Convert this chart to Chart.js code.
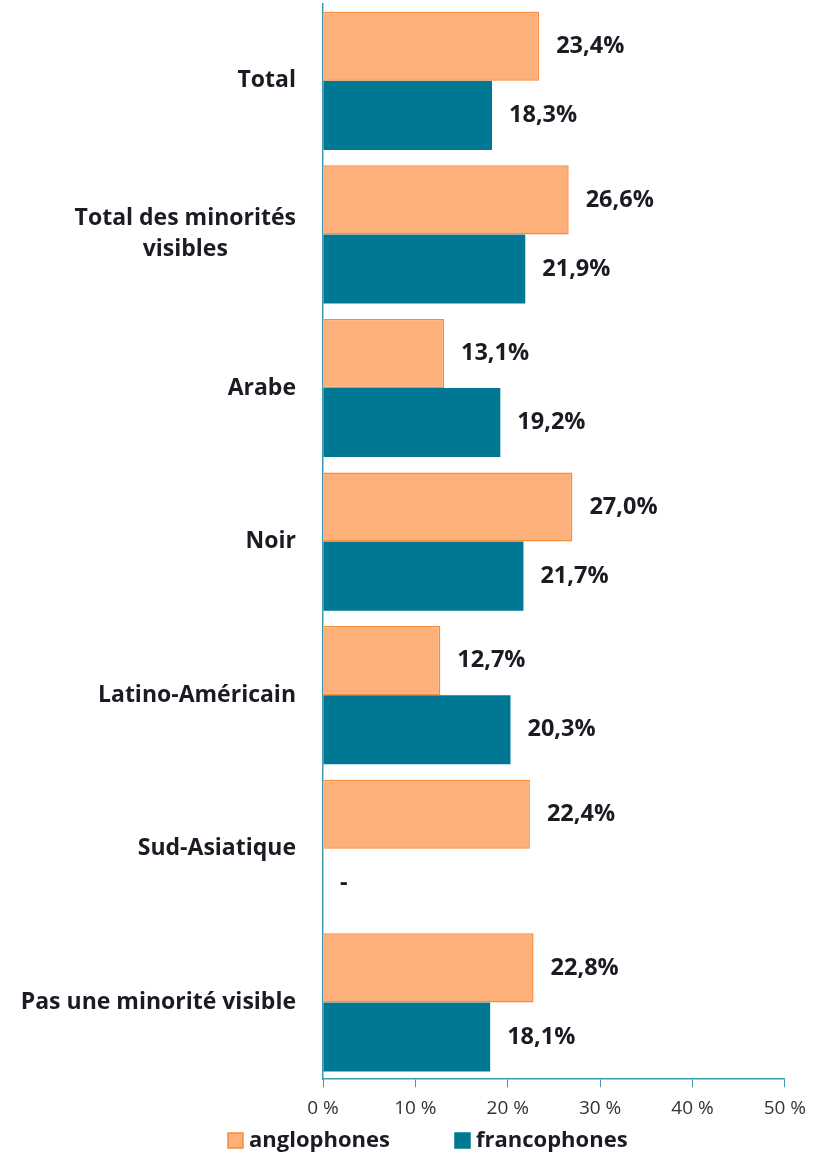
<!DOCTYPE html>
<html>
<head>
<meta charset="utf-8">
<script src="https://cdn.jsdelivr.net/npm/chart.js@4/dist/chart.umd.min.js"></script>
<style>
  html, body { margin: 0; padding: 0; background: #fff; }
  #wrap { width: 816px; height: 1155px; }
</style>
</head>
<body>
<div id="wrap"><canvas id="graph" width="816" height="1155"></canvas></div>
<script>
const categories = [
  'Total',
  ['Total des minorités', 'visibles'],
  'Arabe',
  'Noir',
  'Latino-Américain',
  'Sud-Asiatique',
  'Pas une minorité visible'
];
const anglophones = [23.4, 26.6, 13.1, 27.0, 12.7, 22.4, 22.8];
const francophones = [18.3, 21.9, 19.2, 21.7, 20.3, null, 18.1];
const seriesNames = ['anglophones', 'francophones'];
const xTicks = [0, 10, 20, 30, 40, 50];

const FONT = '"Open Sans", "DejaVu Sans", sans-serif';
const TEXT = '#1b1b24';
const AXIS = '#3f9ab3';
const ORANGE = '#fdb07a';
const ORANGE_EDGE = '#f98b3c';
const TEAL = '#007893';

// etiquettes des categories, valeurs et legende
const dessins = {
  id: 'dessins',
  afterDatasetsDraw(chart) {
    const ctx = chart.ctx;
    const y = chart.scales.y;
    const x = chart.scales.x;
    ctx.save();
    ctx.fillStyle = TEXT;

    // noms des categories
    ctx.font = 'bold 23px ' + FONT;
    ctx.textBaseline = 'middle';
    categories.forEach((c, i) => {
      const cy = y.getPixelForTick(i);
      const lignes = Array.isArray(c) ? c : [c];
      if (lignes.length === 1) {
        ctx.textAlign = 'right';
        ctx.fillText(lignes[0], 296, cy);
      } else {
        const w = ctx.measureText(lignes[0]).width;
        const centre = 296 - w / 2;
        ctx.textAlign = 'center';
        lignes.forEach((l, k) => {
          ctx.fillText(l, centre, cy + (k - (lignes.length - 1) / 2) * 31);
        });
      }
    });

    // valeurs
    ctx.font = 'bold 23.5px ' + FONT;
    ctx.textAlign = 'left';
    chart.data.datasets.forEach((ds, d) => {
      const meta = chart.getDatasetMeta(d);
      const decal = meta.data[0].y - y.getPixelForTick(0);
      ds.data.forEach((v, i) => {
        const py = y.getPixelForTick(i) + decal;
        if (v === null) {
          ctx.fillText('-', x.getPixelForValue(0) + 17, py);
        } else {
          const txt = v.toFixed(1).replace('.', ',') + '%';
          ctx.fillText(txt, x.getPixelForValue(v) + 17, py);
        }
      });
    });

    // legende
    const items = [
      { nom: seriesNames[0], x: 228, fond: ORANGE, bord: ORANGE_EDGE },
      { nom: seriesNames[1], x: 455, fond: TEAL, bord: TEAL }
    ];
    ctx.font = 'bold 22px ' + FONT;
    items.forEach(it => {
      ctx.fillStyle = it.fond;
      ctx.fillRect(it.x, 1133, 15, 15);
      ctx.strokeStyle = it.bord;
      ctx.lineWidth = 1.5;
      ctx.strokeRect(it.x, 1133, 15, 15);
      ctx.fillStyle = TEXT;
      ctx.fillText(it.nom, it.x + 21, 1141);
    });
    ctx.restore();
  }
};

new Chart(document.getElementById('graph'), {
  type: 'bar',
  data: {
    labels: categories,
    datasets: [
      {
        label: seriesNames[0],
        data: anglophones,
        backgroundColor: ORANGE,
        borderColor: ORANGE_EDGE,
        borderWidth: 1.5,
        borderSkipped: 'left'
      },
      {
        label: seriesNames[1],
        data: francophones,
        backgroundColor: TEAL,
        borderWidth: 0
      }
    ]
  },
  options: {
    indexAxis: 'y',
    responsive: false,
    animation: false,
    layout: { padding: { left: 315, right: 25, top: 4, bottom: 25 } },
    datasets: { bar: { categoryPercentage: 0.9, barPercentage: 1.0 } },
    scales: {
      x: {
        min: 0,
        max: 50,
        afterBuildTicks(scale) { scale.ticks = xTicks.map(v => ({ value: v })); },
        grid: { drawOnChartArea: false, drawTicks: true, tickLength: 8, color: AXIS },
        border: { display: true, color: AXIS, width: 1.5 },
        ticks: {
          padding: 10,
          color: '#333333',
          font: { family: FONT, size: 19 },
          callback: v => v + ' %'
        }
      },
      y: {
        grid: { display: false },
        border: { display: true, color: AXIS, width: 1.5 },
        ticks: { display: false }
      }
    },
    plugins: {
      legend: { display: false },
      tooltip: { enabled: false }
    }
  },
  plugins: [dessins]
});
</script>
</body>
</html>
